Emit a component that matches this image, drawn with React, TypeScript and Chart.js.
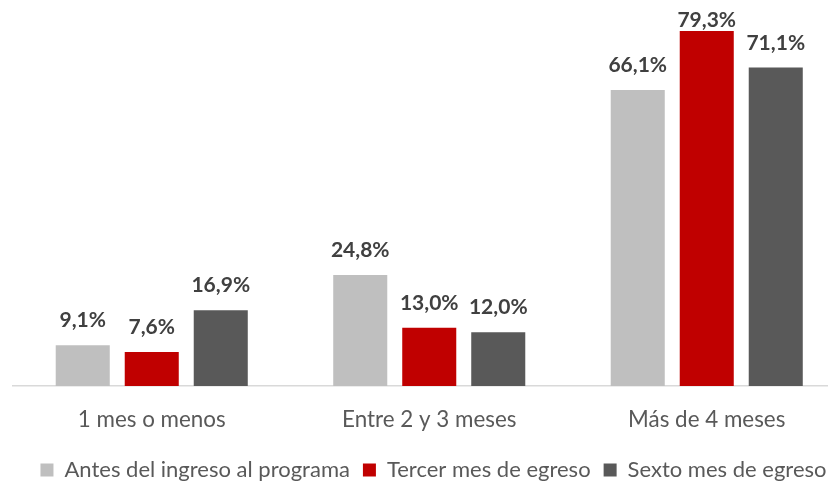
import React, { useEffect, useRef } from "react";
import { Chart, registerables } from "chart.js";

Chart.register(...registerables);

const categories = ["1 mes o menos", "Entre 2 y 3 meses", "Más de 4 meses"];
const seriesNames = ["Antes del ingreso al programa", "Tercer mes de egreso", "Sexto mes de egreso"];
const antes = [9.1, 24.8, 66.1];
const tercer = [7.6, 13.0, 79.3];
const sexto = [16.9, 12.0, 71.1];
const colors = ["#BFBFBF", "#C00000", "#595959"];

const FONT = "Lato, 'Open Sans', sans-serif";

const labelPlugin = {
  id: "valueLabels",
  afterDatasetsDraw(chart: any) {
    const ctx = chart.ctx;
    const top = chart.chartArea.top;
    ctx.save();
    ctx.font = `bold 21px ${FONT}`;
    ctx.fillStyle = "#404040";
    ctx.textAlign = "center";
    ctx.textBaseline = "alphabetic";
    chart.data.datasets.forEach((ds: any, i: number) => {
      const meta = chart.getDatasetMeta(i);
      meta.data.forEach((bar: any, j: number) => {
        const v = ds.data[j] as number;
        const txt = v.toFixed(1).replace(".", ",") + "%";
        const y = Math.max(bar.y - 18, top + 27);
        ctx.fillText(txt, bar.x, y);
      });
    });
    ctx.restore();
  },
};

export default function App() {
  const ref = useRef<HTMLCanvasElement | null>(null);
  useEffect(() => {
    document.body.style.margin = "0";
    const canvas = ref.current!;
    const chart = new Chart(canvas, {
      type: "bar",
      data: {
        labels: categories,
        datasets: [antes, tercer, sexto].map((d, i) => ({
          label: seriesNames[i],
          data: d,
          backgroundColor: colors[i],
          borderWidth: 0,
          categoryPercentage: 0.746,
          barPercentage: 0.783,
        })),
      },
      options: {
        responsive: false,
        animation: false,
        layout: { padding: { top: 0, left: 0, right: 0, bottom: -9 } },
        plugins: {
          tooltip: { enabled: false },
          legend: {
            position: "bottom",
            labels: {
              boxWidth: 13,
              boxHeight: 13,
              padding: 13,
              color: "#595959",
              font: { family: FONT, size: 22 },
            },
          },
        },
        scales: {
          x: {
            grid: { display: false, drawTicks: false },
            border: { display: true, color: "#D9D9D9", width: 1.5 },
            ticks: { color: "#595959", font: { family: FONT, size: 22.4 }, padding: 20 },
            afterFit: (s: any) => {
              const lh = s.chart.legend ? s.chart.legend.height : 0;
              s.height = 482 + 9 - 386 - lh;
            },
          },
          y: {
            min: 0,
            max: 86.2,
            display: true,
            grid: { display: false, drawTicks: false },
            border: { display: false },
            ticks: { display: false },
            afterFit: (s: any) => {
              s.width = 13;
            },
          },
          y2: {
            position: "right",
            display: true,
            grid: { display: false, drawTicks: false },
            border: { display: false },
            ticks: { display: false },
            afterFit: (s: any) => {
              s.width = 21.5;
            },
          },
        },
      },
      plugins: [labelPlugin],
    } as any);
    return () => chart.destroy();
  }, []);
  return (
    <div style={{ width: 828, height: 482, overflow: "hidden", position: "relative", background: "#fff" }}>
      <canvas ref={ref} width={867} height={482} style={{ width: 867, height: 482, display: "block" }} />
    </div>
  );
}
